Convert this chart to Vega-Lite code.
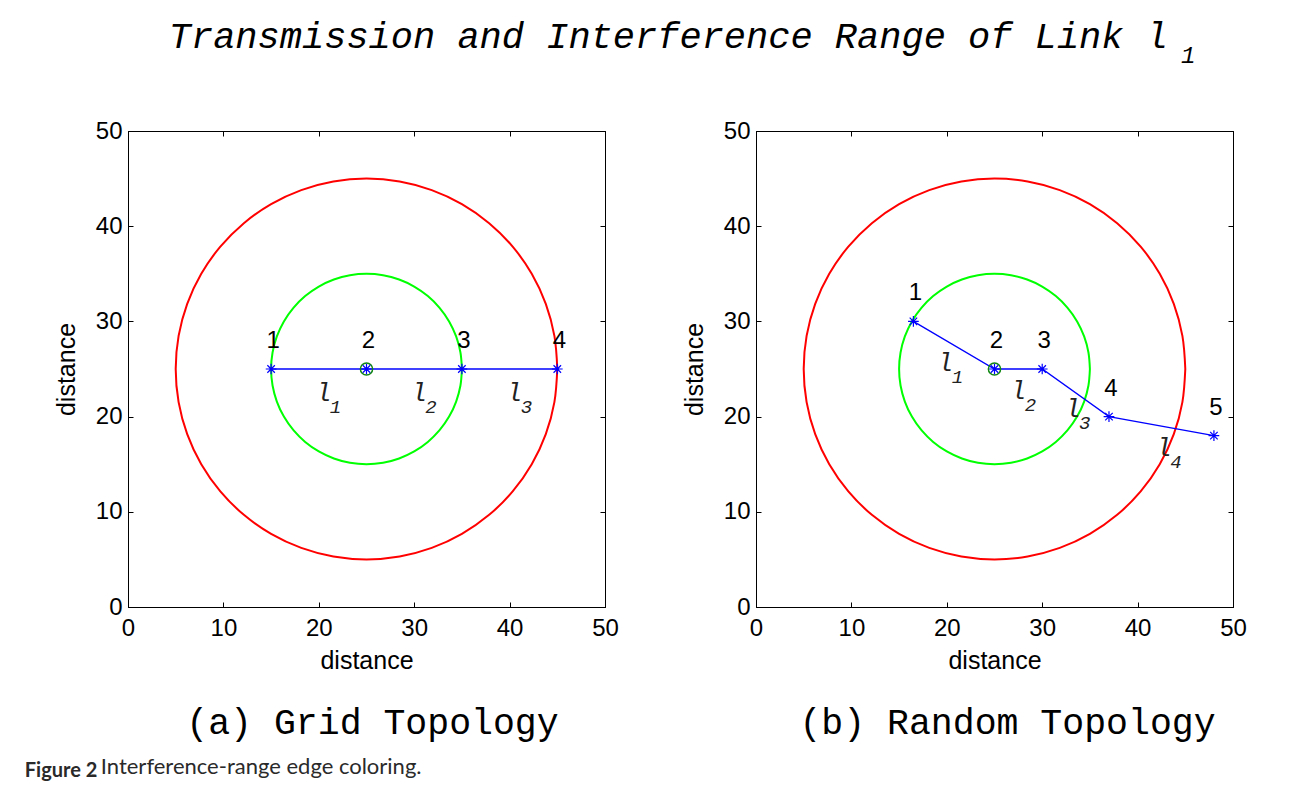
{
  "$schema": "https://vega.github.io/schema/vega-lite/v6.json",
  "background": "white",
  "padding": {"left": 24, "top": 17, "right": 30, "bottom": 6},
  "datasets": {
    "circles": [
      {"c":"interference","i":0,"x":45,"y":25},{"c":"interference","i":1,"x":44.696,"y":28.473},{"c":"interference","i":2,"x":43.794,"y":31.84},{"c":"interference","i":3,"x":42.321,"y":35},{"c":"interference","i":4,"x":40.321,"y":37.856},{"c":"interference","i":5,"x":37.856,"y":40.321},{"c":"interference","i":6,"x":35,"y":42.321},{"c":"interference","i":7,"x":31.84,"y":43.794},{"c":"interference","i":8,"x":28.473,"y":44.696},{"c":"interference","i":9,"x":25,"y":45},{"c":"interference","i":10,"x":21.527,"y":44.696},{"c":"interference","i":11,"x":18.16,"y":43.794},{"c":"interference","i":12,"x":15,"y":42.321},{"c":"interference","i":13,"x":12.144,"y":40.321},{"c":"interference","i":14,"x":9.679,"y":37.856},{"c":"interference","i":15,"x":7.679,"y":35},{"c":"interference","i":16,"x":6.206,"y":31.84},{"c":"interference","i":17,"x":5.304,"y":28.473},{"c":"interference","i":18,"x":5,"y":25},{"c":"interference","i":19,"x":5.304,"y":21.527},{"c":"interference","i":20,"x":6.206,"y":18.16},{"c":"interference","i":21,"x":7.679,"y":15},{"c":"interference","i":22,"x":9.679,"y":12.144},{"c":"interference","i":23,"x":12.144,"y":9.679},{"c":"interference","i":24,"x":15,"y":7.679},{"c":"interference","i":25,"x":18.16,"y":6.206},{"c":"interference","i":26,"x":21.527,"y":5.304},{"c":"interference","i":27,"x":25,"y":5},{"c":"interference","i":28,"x":28.473,"y":5.304},{"c":"interference","i":29,"x":31.84,"y":6.206},{"c":"interference","i":30,"x":35,"y":7.679},{"c":"interference","i":31,"x":37.856,"y":9.679},{"c":"interference","i":32,"x":40.321,"y":12.144},{"c":"interference","i":33,"x":42.321,"y":15},{"c":"interference","i":34,"x":43.794,"y":18.16},{"c":"interference","i":35,"x":44.696,"y":21.527},{"c":"interference","i":36,"x":45,"y":25},
      {"c":"transmission","i":0,"x":35,"y":25},{"c":"transmission","i":1,"x":34.848,"y":26.736},{"c":"transmission","i":2,"x":34.397,"y":28.42},{"c":"transmission","i":3,"x":33.66,"y":30},{"c":"transmission","i":4,"x":32.66,"y":31.428},{"c":"transmission","i":5,"x":31.428,"y":32.66},{"c":"transmission","i":6,"x":30,"y":33.66},{"c":"transmission","i":7,"x":28.42,"y":34.397},{"c":"transmission","i":8,"x":26.736,"y":34.848},{"c":"transmission","i":9,"x":25,"y":35},{"c":"transmission","i":10,"x":23.264,"y":34.848},{"c":"transmission","i":11,"x":21.58,"y":34.397},{"c":"transmission","i":12,"x":20,"y":33.66},{"c":"transmission","i":13,"x":18.572,"y":32.66},{"c":"transmission","i":14,"x":17.34,"y":31.428},{"c":"transmission","i":15,"x":16.34,"y":30},{"c":"transmission","i":16,"x":15.603,"y":28.42},{"c":"transmission","i":17,"x":15.152,"y":26.736},{"c":"transmission","i":18,"x":15,"y":25},{"c":"transmission","i":19,"x":15.152,"y":23.264},{"c":"transmission","i":20,"x":15.603,"y":21.58},{"c":"transmission","i":21,"x":16.34,"y":20},{"c":"transmission","i":22,"x":17.34,"y":18.572},{"c":"transmission","i":23,"x":18.572,"y":17.34},{"c":"transmission","i":24,"x":20,"y":16.34},{"c":"transmission","i":25,"x":21.58,"y":15.603},{"c":"transmission","i":26,"x":23.264,"y":15.152},{"c":"transmission","i":27,"x":25,"y":15},{"c":"transmission","i":28,"x":26.736,"y":15.152},{"c":"transmission","i":29,"x":28.42,"y":15.603},{"c":"transmission","i":30,"x":30,"y":16.34},{"c":"transmission","i":31,"x":31.428,"y":17.34},{"c":"transmission","i":32,"x":32.66,"y":18.572},{"c":"transmission","i":33,"x":33.66,"y":20},{"c":"transmission","i":34,"x":34.397,"y":21.58},{"c":"transmission","i":35,"x":34.848,"y":23.264},{"c":"transmission","i":36,"x":35,"y":25}
    ],
    "gridNodes": [
      {"id":1,"x":15,"y":25,"hub":false},{"id":2,"x":25,"y":25,"hub":true},{"id":3,"x":35,"y":25,"hub":false},{"id":4,"x":45,"y":25,"hub":false}
    ],
    "randNodes": [
      {"id":1,"x":16.5,"y":30,"hub":false},{"id":2,"x":25,"y":25,"hub":true},{"id":3,"x":30,"y":25,"hub":false},{"id":4,"x":37,"y":20,"hub":false},{"id":5,"x":48,"y":18,"hub":false}
    ],
    "gridLinks": [
      {"t":"l","s":"1","x":20.5,"y":22.5},{"t":"l","s":"2","x":30.5,"y":22.5},{"t":"l","s":"3","x":40.5,"y":22.5}
    ],
    "randLinks": [
      {"t":"l","s":"1","x":19.85,"y":25.6},{"t":"l","s":"2","x":27.5,"y":22.7},{"t":"l","s":"3","x":33.2,"y":20.8},{"t":"l","s":"4","x":42.75,"y":16.7}
    ]
  },
  "title": {"text": "Interference-range edge coloring.", "orient": "bottom", "anchor": "start", "font": "Lato", "fontSize": 22, "fontWeight": "normal", "color": "#2a2a2a", "dx": 76, "offset": -24},
  "vconcat": [
    {
      "title": {"text": "Figure 2", "orient": "bottom", "anchor": "start", "font": "Lato", "fontSize": 20, "fontWeight": "bold", "color": "#2a2a2a", "dx": -29, "offset": 19},
      "vconcat": [
        {
          "title": {"text": "Transmission and Interference Range of Link l", "orient": "top", "anchor": "middle", "font": "Liberation Mono", "fontSize": 37, "fontStyle": "italic", "fontWeight": "normal", "color": "black", "offset": -12, "dx": 18},
          "vconcat": [
            {
              "title": {"text": "1", "orient": "top", "anchor": "middle", "font": "Liberation Mono", "fontSize": 24, "fontStyle": "italic", "fontWeight": "normal", "color": "black", "dx": 538, "offset": 51},
              "hconcat": [
                {
                  "width": 477, "height": 476,
                  "title": {"text": "(a) Grid Topology", "orient": "bottom", "font": "Liberation Mono", "fontSize": 36.5, "fontWeight": "normal", "color": "black", "offset": 32, "dx": 6},
                  "resolve": {"axis": {"x": "independent", "y": "independent"}},
                  "layer": [
                    {"data": {"name": "circles"}, "mark": {"type": "line", "strokeWidth": 2, "interpolate": "catmull-rom"},
                     "encoding": {
                       "x": {"field": "x", "type": "quantitative", "scale": {"domain": [0, 50], "nice": false, "zero": false}, "axis": {"orient": "bottom", "title": "distance", "values": [0,10,20,30,40,50]}},
                       "y": {"field": "y", "type": "quantitative", "scale": {"domain": [0, 50], "nice": false, "zero": false}, "axis": {"orient": "left", "title": "distance", "values": [0,10,20,30,40,50]}},
                       "color": {"field": "c", "type": "nominal", "scale": {"domain": ["interference", "transmission"], "range": ["#ff0000", "#00ff00"]}, "legend": null},
                       "order": {"field": "i", "type": "quantitative"}}},
                    {"data": {"name": "gridNodes"}, "mark": {"type": "line", "color": "#0000ff", "strokeWidth": 1.3},
                     "encoding": {
                       "x": {"field": "x", "type": "quantitative", "axis": {"orient": "top", "labels": false, "title": null, "values": [0,10,20,30,40,50]}},
                       "y": {"field": "y", "type": "quantitative", "axis": {"orient": "right", "labels": false, "title": null, "values": [0,10,20,30,40,50]}},
                       "order": {"field": "id", "type": "quantitative"}}},
                    {"data": {"name": "gridNodes"}, "transform": [{"filter": "datum.hub"}], "mark": {"type": "point", "shape": "circle", "size": 150, "filled": false, "stroke": "#118811", "strokeWidth": 1.5, "opacity": 1},
                     "encoding": {"x": {"field": "x", "type": "quantitative", "axis": null}, "y": {"field": "y", "type": "quantitative", "axis": null}}},
                    {"data": {"name": "gridNodes"}, "mark": {"type": "point", "shape": "M-1,0L1,0M0,-1L0,1M-0.7,-0.7L0.7,0.7M-0.7,0.7L0.7,-0.7", "size": 115, "filled": false, "stroke": "#0000ff", "strokeWidth": 1.2, "opacity": 1},
                     "encoding": {"x": {"field": "x", "type": "quantitative", "axis": null}, "y": {"field": "y", "type": "quantitative", "axis": null}}},
                    {"data": {"name": "gridNodes"}, "mark": {"type": "text", "font": "Liberation Sans", "fontSize": 24, "color": "black", "align": "center", "baseline": "middle", "dx": 2, "dy": -28},
                     "encoding": {"x": {"field": "x", "type": "quantitative", "axis": null}, "y": {"field": "y", "type": "quantitative", "axis": null}, "text": {"field": "id", "type": "nominal"}}},
                    {"data": {"name": "gridLinks"}, "mark": {"type": "text", "font": "Liberation Mono", "fontStyle": "italic", "fontSize": 26, "color": "#222222", "align": "center", "baseline": "middle"},
                     "encoding": {"x": {"field": "x", "type": "quantitative", "axis": null}, "y": {"field": "y", "type": "quantitative", "axis": null}, "text": {"field": "t", "type": "nominal"}}},
                    {"data": {"name": "gridLinks"}, "mark": {"type": "text", "font": "Liberation Mono", "fontStyle": "italic", "fontSize": 19, "color": "#222222", "align": "center", "baseline": "middle", "dx": 12, "dy": 14},
                     "encoding": {"x": {"field": "x", "type": "quantitative", "axis": null}, "y": {"field": "y", "type": "quantitative", "axis": null}, "text": {"field": "s", "type": "nominal"}}}
                  ]
                },
                {
                  "width": 477, "height": 476,
                  "title": {"text": "(b) Random Topology", "orient": "bottom", "font": "Liberation Mono", "fontSize": 36.5, "fontWeight": "normal", "color": "black", "offset": 32, "dx": 13},
                  "resolve": {"axis": {"x": "independent", "y": "independent"}},
                  "layer": [
                    {"data": {"name": "circles"}, "mark": {"type": "line", "strokeWidth": 2, "interpolate": "catmull-rom"},
                     "encoding": {
                       "x": {"field": "x", "type": "quantitative", "scale": {"domain": [0, 50], "nice": false, "zero": false}, "axis": {"orient": "bottom", "title": "distance", "values": [0,10,20,30,40,50]}},
                       "y": {"field": "y", "type": "quantitative", "scale": {"domain": [0, 50], "nice": false, "zero": false}, "axis": {"orient": "left", "title": "distance", "values": [0,10,20,30,40,50]}},
                       "color": {"field": "c", "type": "nominal", "scale": {"domain": ["interference", "transmission"], "range": ["#ff0000", "#00ff00"]}, "legend": null},
                       "order": {"field": "i", "type": "quantitative"}}},
                    {"data": {"name": "randNodes"}, "mark": {"type": "line", "color": "#0000ff", "strokeWidth": 1.3},
                     "encoding": {
                       "x": {"field": "x", "type": "quantitative", "axis": {"orient": "top", "labels": false, "title": null, "values": [0,10,20,30,40,50]}},
                       "y": {"field": "y", "type": "quantitative", "axis": {"orient": "right", "labels": false, "title": null, "values": [0,10,20,30,40,50]}},
                       "order": {"field": "id", "type": "quantitative"}}},
                    {"data": {"name": "randNodes"}, "transform": [{"filter": "datum.hub"}], "mark": {"type": "point", "shape": "circle", "size": 150, "filled": false, "stroke": "#118811", "strokeWidth": 1.5, "opacity": 1},
                     "encoding": {"x": {"field": "x", "type": "quantitative", "axis": null}, "y": {"field": "y", "type": "quantitative", "axis": null}}},
                    {"data": {"name": "randNodes"}, "mark": {"type": "point", "shape": "M-1,0L1,0M0,-1L0,1M-0.7,-0.7L0.7,0.7M-0.7,0.7L0.7,-0.7", "size": 115, "filled": false, "stroke": "#0000ff", "strokeWidth": 1.2, "opacity": 1},
                     "encoding": {"x": {"field": "x", "type": "quantitative", "axis": null}, "y": {"field": "y", "type": "quantitative", "axis": null}}},
                    {"data": {"name": "randNodes"}, "mark": {"type": "text", "font": "Liberation Sans", "fontSize": 24, "color": "black", "align": "center", "baseline": "middle", "dx": 2, "dy": -28},
                     "encoding": {"x": {"field": "x", "type": "quantitative", "axis": null}, "y": {"field": "y", "type": "quantitative", "axis": null}, "text": {"field": "id", "type": "nominal"}}},
                    {"data": {"name": "randLinks"}, "mark": {"type": "text", "font": "Liberation Mono", "fontStyle": "italic", "fontSize": 26, "color": "#222222", "align": "center", "baseline": "middle"},
                     "encoding": {"x": {"field": "x", "type": "quantitative", "axis": null}, "y": {"field": "y", "type": "quantitative", "axis": null}, "text": {"field": "t", "type": "nominal"}}},
                    {"data": {"name": "randLinks"}, "mark": {"type": "text", "font": "Liberation Mono", "fontStyle": "italic", "fontSize": 19, "color": "#222222", "align": "center", "baseline": "middle", "dx": 12, "dy": 14},
                     "encoding": {"x": {"field": "x", "type": "quantitative", "axis": null}, "y": {"field": "y", "type": "quantitative", "axis": null}, "text": {"field": "s", "type": "nominal"}}}
                  ]
                }
              ],
              "bounds": "flush",
              "spacing": 151
            }
          ]
        }
      ]
    }
  ],
  "config": {
    "view": {"stroke": "black", "strokeWidth": 1},
    "axis": {"grid": false, "domainColor": "black", "domainWidth": 1, "tickColor": "black", "tickSize": -5, "tickWidth": 1, "labelColor": "black", "labelFont": "Liberation Sans", "labelFontSize": 24, "labelFlush": false, "labelOverlap": false, "titleFont": "Liberation Sans", "titleFontSize": 25, "titleFontWeight": "normal", "titleColor": "black"},
    "axisX": {"labelPadding": 14, "titlePadding": 8},
    "axisY": {"labelPadding": 11, "titlePadding": 16}
  }
}
